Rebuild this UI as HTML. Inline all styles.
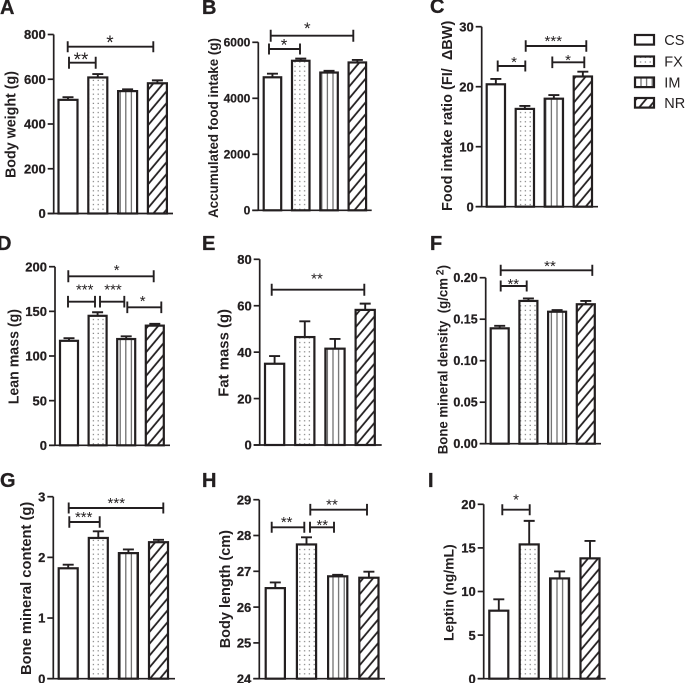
<!DOCTYPE html>
<html lang="en">
<head>
<meta charset="utf-8">
<title>Body composition bar charts</title>
<style>
html,body{margin:0;padding:0;background:#fff;}
svg{display:block;font-family:"Liberation Sans",Arial,sans-serif;}
</style>
</head>
<body>
<svg id="figure" width="685" height="683" viewBox="0 0 685 683" xmlns="http://www.w3.org/2000/svg">
  <defs>
    <pattern id="dots" patternUnits="userSpaceOnUse" width="4.8" height="4.6">
      <rect x="1.6" y="1.6" width="1.2" height="1.2" fill="#777"/>
    </pattern>
    <pattern id="stripes" patternUnits="userSpaceOnUse" width="5.6" height="10">
      <rect x="2" y="0" width="1.2" height="10" fill="#666"/>
    </pattern>
    <pattern id="hatch" patternUnits="userSpaceOnUse" width="7.6" height="10" patternTransform="rotate(40)">
      <rect x="3" y="0" width="1.8" height="10" fill="#231f20"/>
    </pattern>
  </defs>
</svg>
<script>
const categories = ['CS', 'FX', 'IM', 'NR'];

const bodyWeight = [508, 608, 547, 582];
const bodyWeightErr = [12, 15, 8, 13];
const bodyWeightTicks = ['0', '200', '400', '600', '800'];

const foodIntake = [4750, 5340, 4920, 5280];
const foodIntakeErr = [130, 80, 60, 90];
const foodIntakeTicks = ['0', '2000', '4000', '6000'];

const intakeRatio = [20.4, 16.3, 18.0, 21.7];
const intakeRatioErr = [0.9, 0.5, 0.6, 0.8];
const intakeRatioTicks = ['0', '10', '20', '30'];

const leanMass = [117, 145, 119, 134];
const leanMassErr = [3, 4, 3, 2];
const leanMassTicks = ['0', '50', '100', '150', '200'];

const fatMass = [35, 46.5, 41.5, 58.2];
const fatMassErr = [3.3, 6.8, 4.2, 2.7];
const fatMassTicks = ['0', '20', '40', '60', '80'];

const boneDensity = [0.139, 0.172, 0.159, 0.168];
const boneDensityErr = [0.003, 0.003, 0.002, 0.004];
const boneDensityTicks = ['0.00', '0.05', '0.10', '0.15', '0.20'];

const boneContent = [1.82, 2.32, 2.07, 2.25];
const boneContentErr = [0.06, 0.11, 0.06, 0.04];
const boneContentTicks = ['0', '1', '2', '3'];

const bodyLength = [26.53, 27.75, 26.86, 26.82];
const bodyLengthErr = [0.16, 0.2, 0.04, 0.17];
const bodyLengthTicks = ['24', '25', '26', '27', '28', '29'];

const leptin = [7.8, 15.4, 11.5, 13.8];
const leptinErr = [1.3, 2.7, 0.8, 2.0];
const leptinTicks = ['0', '5', '10', '15', '20'];

const INK = '#231f20';
const NS = 'http://www.w3.org/2000/svg';
const svg = document.getElementById('figure');
const fills = ['#fff', 'url(#dots)', 'url(#stripes)', 'url(#hatch)'];

function make(tag, attrs, parent, text) {
  const node = document.createElementNS(NS, tag);
  for (const key in attrs) node.setAttribute(key, attrs[key]);
  if (text !== undefined) node.textContent = text;
  (parent || svg).appendChild(node);
  return node;
}

const panels = [
  { id: 'a', letter: 'A', lx: 0, ly: 14, values: bodyWeight, errs: bodyWeightErr, ticks: bodyWeightTicks,
    axisX: 53.7, top: 34.5, bottom: 213.5, endX: 173, first: 57.5, step: 29.8, barW: 21, tickFs: 13,
    title: 'Body weight (g)', titleX: 15.5, titleBottom: 178, titleTop: 71, titleFs: 15,
    brackets: [
      [67.7, 153.3, 46.7, 5.5, '*', 110, 39, 19],
      [69, 95.7, 62.7, 6, '**', 81, 56, 19]
    ] },
  { id: 'b', letter: 'B', lx: 202, ly: 14, values: foodIntake, errs: foodIntakeErr, ticks: foodIntakeTicks,
    axisX: 258.3, top: 42.3, bottom: 210.3, endX: 371.7, first: 262.7, step: 28.3, barW: 19.5, tickFs: 12,
    title: 'Accumulated food intake (g)', titleX: 218, titleBottom: 218, titleTop: 38, titleFs: 14,
    brackets: [
      [270.7, 353.3, 35.7, 6, '*', 307.3, 25, 17],
      [269, 300, 49, 5.5, '*', 284, 41.7, 17]
    ] },
  { id: 'c', letter: 'C', lx: 430, ly: 13, values: intakeRatio, errs: intakeRatioErr, ticks: intakeRatioTicks,
    axisX: 481.7, top: 26.7, bottom: 206.7, endX: 598, first: 485.7, step: 29, barW: 20.3, tickFs: 13,
    title: 'Food intake ratio (FI/  \u0394BW)', titleX: 452, titleBottom: 211, titleTop: 20.7, titleFs: 15,
    brackets: [
      [497.7, 525.3, 66, 5.5, '*', 514, 59.3, 15],
      [525.7, 586.3, 46, 5.8, '***', 553.3, 38.3, 15],
      [552.3, 584.3, 62.3, 5.8, '*', 568, 57.3, 15]
    ] },
  { id: 'd', letter: 'D', lx: -3, ly: 250, values: leanMass, errs: leanMassErr, ticks: leanMassTicks,
    axisX: 55, top: 266.7, bottom: 445.3, endX: 170, first: 59, step: 28.6, barW: 20, tickFs: 13,
    title: 'Lean mass (g)', titleX: 18.5, titleBottom: 404.3, titleTop: 309, titleFs: 15,
    brackets: [
      [68.3, 153.7, 276.3, 6, '*', 116.7, 267.3, 15],
      [68, 95, 301.7, 5.8, '***', 84.7, 286.7, 15],
      [100, 124.3, 301.7, 5.8, '***', 113, 286.7, 15],
      [127.3, 161.3, 307.3, 5.8, '*', 142.7, 298.3, 15]
    ] },
  { id: 'e', letter: 'E', lx: 202, ly: 250, values: fatMass, errs: fatMassErr, ticks: fatMassTicks,
    axisX: 259.7, top: 259.3, bottom: 445, endX: 381.7, first: 264, step: 30.2, barW: 21.2, tickFs: 13,
    title: 'Fat mass (g)', titleX: 228.5, titleBottom: 396.7, titleTop: 309, titleFs: 15,
    brackets: [
      [271.7, 364.3, 289.7, 6, '**', 317, 275.7, 15]
    ] },
  { id: 'f', letter: 'F', lx: 430, ly: 250, values: boneDensity, errs: boneDensityErr, ticks: boneDensityTicks,
    axisX: 485.7, top: 277.7, bottom: 443.7, endX: 601, first: 489.7, step: 28.7, barW: 20, tickFs: 12.5,
    title: 'Bone mineral density  (g/cm', titleSup: '2', titleX: 447.7, titleBottom: 454.3, titleTop: 265, titleFs: 14,
    brackets: [
      [500.7, 592.3, 270.3, 5.6, '**', 550, 263.3, 15],
      [500.7, 526.7, 286, 5.5, '**', 513.3, 281, 15]
    ] },
  { id: 'g', letter: 'G', lx: 0, ly: 487, values: boneContent, errs: boneContentErr, ticks: boneContentTicks,
    axisX: 53.3, top: 496.7, bottom: 678.7, endX: 175, first: 57.7, step: 30.1, barW: 21, tickFs: 13,
    title: 'Bone mineral content (g)', titleX: 31, titleBottom: 675, titleTop: 501.7, titleFs: 15,
    brackets: [
      [68.7, 163.3, 508, 5.5, '***', 116.3, 500, 15],
      [69.3, 99.7, 522, 5.8, '***', 83.7, 514.3, 15]
    ] },
  { id: 'h', letter: 'H', lx: 202, ly: 487, values: bodyLength, errs: bodyLengthErr, ticks: bodyLengthTicks,
    axisX: 259.3, top: 499.7, bottom: 678.7, endX: 385, first: 264.7, step: 31.2, barW: 21.2, tickFs: 13, min: 24,
    title: 'Body length (cm)', titleX: 230, titleBottom: 648.3, titleTop: 530, titleFs: 15,
    brackets: [
      [271.7, 304.3, 527.3, 5.5, '**', 286.7, 519.3, 15],
      [310.3, 367, 509.7, 5.8, '**', 332, 501.7, 15],
      [310, 334, 527.3, 5.5, '**', 322.3, 522.3, 15]
    ] },
  { id: 'i', letter: 'I', lx: 428, ly: 487, values: leptin, errs: leptinErr, ticks: leptinTicks,
    axisX: 483.7, top: 504.3, bottom: 678.7, endX: 605.7, first: 488.3, step: 30.4, barW: 21, tickFs: 13,
    title: 'Leptin (ng/mL)', titleX: 453.5, titleBottom: 641, titleTop: 544.3, titleFs: 13.5,
    brackets: [
      [502.3, 529.7, 509.7, 5.5, '*', 516, 496.7, 15]
    ] }
];

function drawPanel(p) {
  const g = make('g', {});
  
  

  const tickNums = p.ticks.map(parseFloat);
  const minV = p.min !== undefined ? p.min : 0;
  const maxV = Math.max.apply(null, tickNums);
  const yScale = v => p.bottom - (v - minV) / (maxV - minV) * (p.bottom - p.top);
  const xScale = i => p.first + i * p.step;

  const letter = make('text', { x: p.lx, y: p.ly, 'font-size': 20, 'font-weight': 'bold', fill: INK, stroke: INK, 'stroke-width': 0.3 }, g, p.letter);
  
  

  p.values.forEach((v, i) => {
    const x = xScale(i) + 1;
    const w = p.barW - 2;
    const y = yScale(v);
    const errTop = yScale(v + p.errs[i]);
    const cx = x + w / 2;

    const err = make('path', {
      d: 'M' + cx + ' ' + y + 'V' + errTop + 'M' + (cx - 5.5) + ' ' + errTop + 'H' + (cx + 5.5),
      fill: 'none', stroke: INK, 'stroke-width': 1.9
    }, g);
    
    

    const bar = make('rect', {
      x: x, y: y, width: w, height: p.bottom - y,
      fill: fills[i], stroke: INK, 'stroke-width': 2.2
    }, g);
    
    
  });

  const axis = make('path', {
    d: 'M' + p.axisX + ' ' + p.top + 'V' + p.bottom + 'M' + (p.axisX - 6) + ' ' + p.bottom + 'H' + p.endX,
    fill: 'none', stroke: INK, 'stroke-width': 1.7
  }, g);
  
  

  p.ticks.forEach((t, i) => {
    const y = yScale(tickNums[i]);
    const mark = make('line', { x1: p.axisX - 6, x2: p.axisX, y1: y, y2: y, stroke: INK, 'stroke-width': 1.7 }, g);
    
    
    const label = make('text', {
      x: p.axisX - 8, y: y + p.tickFs * 0.36, 'text-anchor': 'end',
      'font-size': p.tickFs, 'font-weight': 'bold', fill: INK, stroke: INK, 'stroke-width': 0.25
    }, g, t);
    
    
  });

  const title = make('text', {
    transform: 'translate(' + p.titleX + ',' + p.titleBottom + ') rotate(-90)',
    x: 0, y: 0, 'font-size': p.titleFs, 'font-weight': 'bold', fill: INK,
    textLength: p.titleBottom - p.titleTop, lengthAdjust: 'spacingAndGlyphs',
    'xml:space': 'preserve', style: 'white-space:pre'
  }, g, p.title);
  
  
  if (p.titleSup) {
    make('tspan', { dx: 3, dy: -4, 'font-size': p.titleFs - 3 }, title, p.titleSup);
    make('tspan', { dy: 4 }, title, ')');
  }

  p.brackets.forEach((b, i) => {
    const br = make('path', {
      d: 'M' + b[0] + ' ' + (b[2] - b[3]) + 'V' + (b[2] + b[3]) + 'M' + b[1] + ' ' + (b[2] - b[3]) + 'V' + (b[2] + b[3]) + 'M' + b[0] + ' ' + b[2] + 'H' + b[1],
      fill: 'none', stroke: INK, 'stroke-width': 1.9
    }, g);
    
    
    const star = make('text', {
      x: b[5], y: b[6] + b[7] * 0.52, 'text-anchor': 'middle', 'font-size': b[7], fill: INK
    }, g, b[4]);
    
    
  });
}

panels.forEach(drawPanel);

const legend = make('g', {});


const legendTops = [35, 56.5, 77.5, 98];
categories.forEach((c, i) => {
  const entry = make('g', {}, legend);
  
  
  const swatch = make('rect', { x: 635, y: legendTops[i], width: 19, height: 9.6, fill: fills[i], stroke: INK, 'stroke-width': 2.2 }, entry);
  
  
  const label = make('text', { x: 664.3, y: legendTops[i] + 10.2, 'font-size': 14.5, fill: INK }, entry, c);
  
  
});
</script>
</body>
</html>
